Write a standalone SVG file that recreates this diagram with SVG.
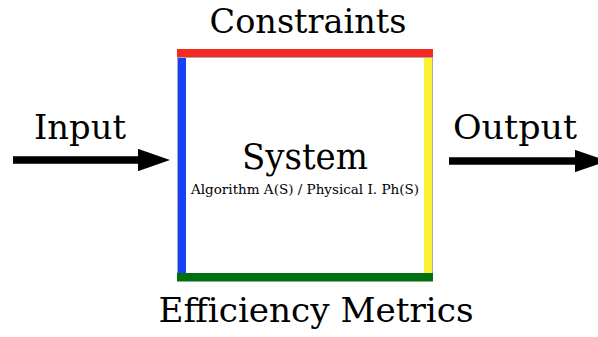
<svg xmlns="http://www.w3.org/2000/svg" width="598" height="337" viewBox="0 0 598 337">
<style>
.t{font-family:"DejaVu Serif","Liberation Serif",serif;fill:#000}
.big{font-size:33px}
</style>
<defs>
<marker id="ah" markerWidth="4.3" markerHeight="3" refX="0.3" refY="1.5" orient="auto" markerUnits="strokeWidth"><path d="M0,0 L4.3,1.5 L0,3 Z" fill="#000"/></marker>
</defs>
<rect x="0" y="0" width="598" height="337" fill="#fff"/>
<g id="system">
<rect x="177.5" y="57.5" width="255" height="216" fill="#fff" stroke="#aaa" stroke-width="1"/>
<rect x="177" y="49" width="256" height="8" fill="#f32a1f"/>
<rect x="178" y="58" width="8" height="215" fill="#1641f5"/>
<rect x="424" y="58" width="8" height="215" fill="#f9f334"/>
<rect x="177" y="273" width="256" height="8.5" fill="#006f11"/>
<text class="t" x="305" y="169" font-size="35" text-anchor="middle" textLength="126" lengthAdjust="spacingAndGlyphs">System</text>
<text class="t" x="305" y="194" font-size="12.5" text-anchor="middle" textLength="228" lengthAdjust="spacingAndGlyphs">Algorithm A(S)  / Physical I. Ph(S)</text>
</g>
<g id="constraints"><text class="t big" x="308" y="33" text-anchor="middle" textLength="197" lengthAdjust="spacingAndGlyphs">Constraints</text></g>
<g id="metrics"><text class="t big" x="316" y="322" text-anchor="middle" textLength="315" lengthAdjust="spacingAndGlyphs">Efficiency Metrics</text></g>
<g id="input"><text class="t big" x="34" y="139" textLength="92" lengthAdjust="spacingAndGlyphs">Input</text></g>
<g id="output"><text class="t big" x="453" y="139" textLength="124" lengthAdjust="spacingAndGlyphs">Output</text></g>
<g id="connectors">
<line x1="13" y1="160" x2="140" y2="160" stroke="#000" stroke-width="7.5" marker-end="url(#ah)"/>
<line x1="449" y1="161" x2="577" y2="161" stroke="#000" stroke-width="7.5" marker-end="url(#ah)"/>
</g>
</svg>
